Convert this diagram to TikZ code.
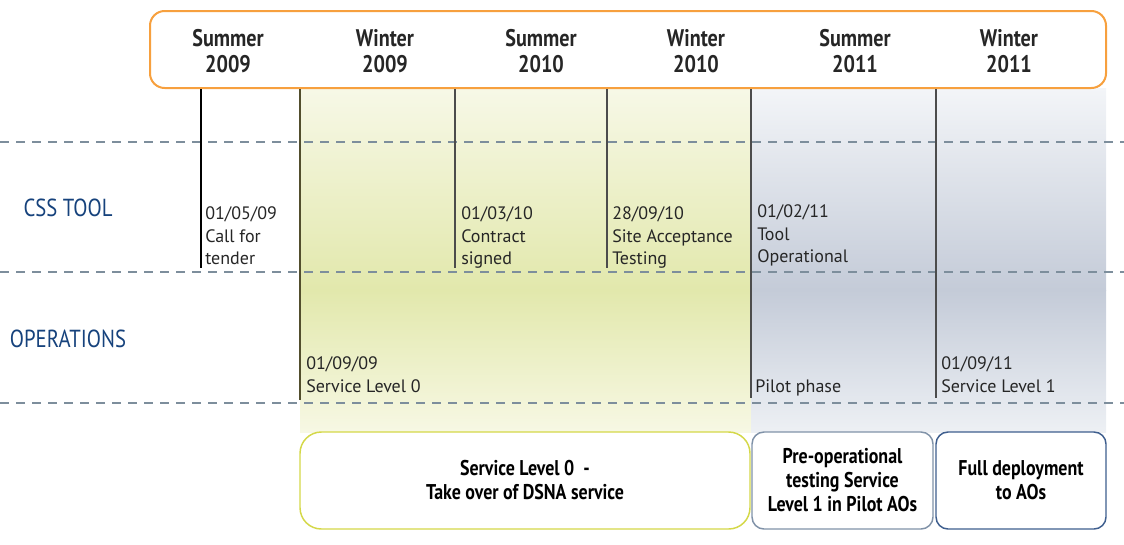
\documentclass[tikz,border=0pt]{standalone}
\usepackage{fontspec}
\setmainfont{PT Sans}
\newfontfamily\headfont[FakeStretch=0.84]{PT Sans}
\usetikzlibrary{positioning}
\definecolor{hdorange}{RGB}{247,160,62}
\definecolor{lanegray}{RGB}{125,142,156}
\definecolor{cssblue}{RGB}{22,66,124}
\definecolor{limeline}{RGB}{212,216,72}
\definecolor{slateline}{RGB}{128,146,168}
\definecolor{navyline}{RGB}{62,94,142}
\definecolor{greenA}{RGB}{247,248,231}
\definecolor{greenB}{RGB}{226,232,172}
\definecolor{greenC}{RGB}{247,248,228}
\definecolor{blueA}{RGB}{243,245,248}
\definecolor{blueB}{RGB}{196,203,216}
\definecolor{blueC}{RGB}{237,240,244}
\begin{document}
\begin{tikzpicture}[x=0.75pt,y=-0.75pt,inner sep=0pt,
  season/.style={font=\headfont\bfseries\fontsize{18}{19.5}\selectfont,align=center,text=black!85},
  lanelabel/.style={font=\headfont\fontsize{18.5}{20}\selectfont,text=cssblue},
  event/.style={anchor=north west,align=left,font=\fontsize{13.5}{17.2}\selectfont,text=black!85},
  phase/.style={line width=1.1pt,fill=white,align=center,font=\headfont\bfseries\fontsize{16}{18}\selectfont,minimum height=72.75pt},
  tick/.style={line width=1pt,draw=black!70}]
\useasboundingbox (0,0) rectangle (1124,544);
% periods
\shade[top color=greenA,bottom color=greenB] (300,88) rectangle (751,290);
\shade[top color=greenB,bottom color=greenC] (300,290) rectangle (751,432);
\shade[top color=blueA,bottom color=blueB] (751,88) rectangle (1106,290);
\shade[top color=blueB,bottom color=blueC] (751,290) rectangle (1106,432);
% lanes
\draw[lanegray,dashed,dash pattern=on 7pt off 5pt,line width=0.8pt] (0,142) -- (1124,142);
\draw[lanegray,dashed,dash pattern=on 7pt off 5pt,line width=0.8pt] (0,272) -- (1124,272);
\draw[lanegray,dashed,dash pattern=on 7pt off 5pt,line width=0.8pt] (0,403) -- (1124,403);
% header
\node (header) at (628,49.5) [draw=hdorange,line width=1.5pt,fill=white,rounded corners=11pt,minimum width=717pt,minimum height=57.75pt]{};
\node[season] (s1) at (228,51) {Summer\\2009};
\node[season] (s2) at (385,51) {Winter\\2009};
\node[season] (s3) at (541,51) {Summer\\2010};
\node[season] (s4) at (696,51) {Winter\\2010};
\node[season] (s5) at (855,51) {Summer\\2011};
\node[season] (s6) at (1009,51) {Winter\\2011};
% milestones
\coordinate (m1) at (201,268);
\coordinate (m2) at (300,400);
\coordinate (m3) at (455,268);
\coordinate (m4) at (607,268);
\coordinate (m5) at (751,398);
\coordinate (m6) at (936,398);
\draw[tick,draw=black] (m1 |- header.south) -- (m1);
\draw[tick,draw=black!55!olive] (m2 |- header.south) -- (m2);
\foreach \m in {m3,m4,m5,m6}
  \draw[tick] (\m |- header.south) -- (\m);
% lane names
\node[lanelabel] (css) at (68,208) {CSS TOOL};
\node[lanelabel] (ops) at (68,339) {OPERATIONS};
% events
\node[event] (e1) at (205,206) {01/05/09\\Call for\\tender};
\node[event] (e2) at (461,206) {01/03/10\\Contract\\signed};
\node[event] (e3) at (612,206) {28/09/10\\Site Acceptance\\Testing};
\node[event] (e4) at (757,204) {01/02/11\\Tool\\Operational};
\node[event] (e5) at (306,356) {01/09/09\\Service Level 0};
\node[event] (e6) at (755,379) {Pilot phase};
\node[event] (e7) at (941,356) {01/09/11\\Service Level 1};
% phases
\node[phase,draw=limeline,rounded corners=16pt,minimum width=337.5pt] (p1) at (525,480.5) {Service Level 0\ \ -\\Take over of DSNA service};
\node[phase,draw=slateline,rounded corners=9pt,minimum width=135.75pt] (p2) at (842.5,480.5) {Pre-operational\\testing Service\\Level 1 in Pilot AOs};
\node[phase,draw=navyline,rounded corners=9pt,minimum width=127.5pt] (p3) at (1021,480.5) {Full deployment\\to AOs};
\end{tikzpicture}
\end{document}
